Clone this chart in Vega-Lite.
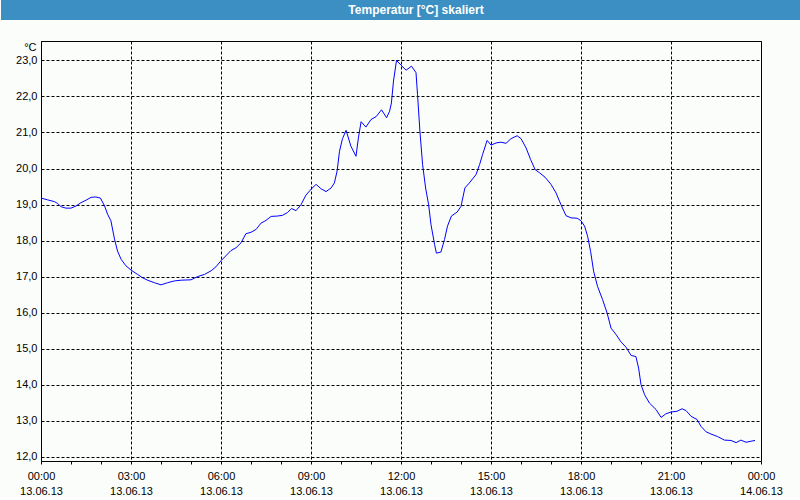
{
  "$schema": "https://vega.github.io/schema/vega-lite/v6.json",
  "padding": 0,
  "background": "#fbfdfb",
  "config": {"font": "Liberation Sans"},
  "columns": 1,
  "align": "none",
  "spacing": 20,
  "concat": [
    {
      "width": 760,
      "height": 20,
      "view": {"stroke": null},
      "data": {"values": [{"title": "Temperatur [°C] skaliert", "start": 0, "end": 1, "mid": 0.5}]},
      "layer": [
        {
          "mark": {"type": "rect", "color": "#3b8fc3"},
          "encoding": {
            "x": {"field": "start", "type": "quantitative", "scale": {"domain": [0, 1], "range": [-40, 760]}, "axis": null},
            "x2": {"field": "end"},
            "y": {"value": 0},
            "y2": {"value": "height"}
          }
        },
        {
          "mark": {"type": "text", "color": "white", "fontWeight": "bold", "fontSize": 12, "dx": 15, "baseline": "middle"},
          "encoding": {
            "x": {"field": "mid", "type": "quantitative"},
            "text": {"field": "title"}
          }
        }
      ]
    },
    {
      "width": 720,
      "height": 420,
      "view": {"stroke": "black", "strokeWidth": 1},
      "data": {"values": [
        {"h": 0.0, "v": 19.18}, {"h": 0.22, "v": 19.13}, {"h": 0.45, "v": 19.08}, {"h": 0.55, "v": 19.03},
        {"h": 0.67, "v": 18.94}, {"h": 0.83, "v": 18.9}, {"h": 1.0, "v": 18.9}, {"h": 1.17, "v": 18.96},
        {"h": 1.33, "v": 19.05}, {"h": 1.5, "v": 19.12}, {"h": 1.67, "v": 19.2}, {"h": 1.83, "v": 19.21},
        {"h": 1.98, "v": 19.18}, {"h": 2.12, "v": 18.96}, {"h": 2.22, "v": 18.73}, {"h": 2.33, "v": 18.55},
        {"h": 2.45, "v": 18.04}, {"h": 2.55, "v": 17.71}, {"h": 2.67, "v": 17.48}, {"h": 2.83, "v": 17.3},
        {"h": 3.0, "v": 17.18}, {"h": 3.22, "v": 17.06}, {"h": 3.38, "v": 16.97}, {"h": 3.55, "v": 16.9},
        {"h": 3.78, "v": 16.83}, {"h": 4.0, "v": 16.77}, {"h": 4.22, "v": 16.83}, {"h": 4.45, "v": 16.88},
        {"h": 4.67, "v": 16.9}, {"h": 5.0, "v": 16.91}, {"h": 5.22, "v": 17.0}, {"h": 5.45, "v": 17.06},
        {"h": 5.67, "v": 17.16}, {"h": 5.83, "v": 17.27}, {"h": 6.0, "v": 17.44}, {"h": 6.33, "v": 17.72},
        {"h": 6.5, "v": 17.8}, {"h": 6.67, "v": 17.94}, {"h": 6.83, "v": 18.19}, {"h": 7.0, "v": 18.23},
        {"h": 7.17, "v": 18.31}, {"h": 7.33, "v": 18.48}, {"h": 7.5, "v": 18.56}, {"h": 7.67, "v": 18.67},
        {"h": 7.88, "v": 18.68}, {"h": 8.05, "v": 18.7}, {"h": 8.22, "v": 18.78}, {"h": 8.35, "v": 18.89},
        {"h": 8.5, "v": 18.83}, {"h": 8.67, "v": 19.0}, {"h": 8.83, "v": 19.26}, {"h": 9.02, "v": 19.44},
        {"h": 9.17, "v": 19.56}, {"h": 9.33, "v": 19.44}, {"h": 9.5, "v": 19.36}, {"h": 9.67, "v": 19.46},
        {"h": 9.78, "v": 19.6}, {"h": 9.87, "v": 19.93}, {"h": 9.95, "v": 20.48}, {"h": 10.05, "v": 20.83},
        {"h": 10.17, "v": 21.06}, {"h": 10.33, "v": 20.62}, {"h": 10.5, "v": 20.34}, {"h": 10.58, "v": 20.85},
        {"h": 10.67, "v": 21.3}, {"h": 10.83, "v": 21.15}, {"h": 11.0, "v": 21.36}, {"h": 11.17, "v": 21.44},
        {"h": 11.35, "v": 21.63}, {"h": 11.52, "v": 21.41}, {"h": 11.62, "v": 21.59}, {"h": 11.68, "v": 21.82},
        {"h": 11.75, "v": 22.43}, {"h": 11.85, "v": 23.0}, {"h": 12.0, "v": 22.87}, {"h": 12.17, "v": 22.73},
        {"h": 12.35, "v": 22.84}, {"h": 12.5, "v": 22.66}, {"h": 12.55, "v": 22.06}, {"h": 12.63, "v": 21.04},
        {"h": 12.72, "v": 20.11}, {"h": 12.82, "v": 19.46}, {"h": 12.92, "v": 19.0}, {"h": 13.0, "v": 18.44},
        {"h": 13.12, "v": 17.89}, {"h": 13.18, "v": 17.65}, {"h": 13.33, "v": 17.68}, {"h": 13.45, "v": 18.03},
        {"h": 13.55, "v": 18.4}, {"h": 13.68, "v": 18.68}, {"h": 13.87, "v": 18.79}, {"h": 14.0, "v": 18.95},
        {"h": 14.13, "v": 19.46}, {"h": 14.28, "v": 19.6}, {"h": 14.5, "v": 19.83}, {"h": 14.62, "v": 20.11},
        {"h": 14.72, "v": 20.39}, {"h": 14.87, "v": 20.78}, {"h": 15.0, "v": 20.65}, {"h": 15.17, "v": 20.71},
        {"h": 15.33, "v": 20.73}, {"h": 15.5, "v": 20.7}, {"h": 15.67, "v": 20.83}, {"h": 15.87, "v": 20.91},
        {"h": 16.0, "v": 20.83}, {"h": 16.17, "v": 20.57}, {"h": 16.32, "v": 20.25}, {"h": 16.47, "v": 19.97},
        {"h": 16.62, "v": 19.88}, {"h": 16.8, "v": 19.76}, {"h": 17.0, "v": 19.56}, {"h": 17.17, "v": 19.32},
        {"h": 17.33, "v": 19.0}, {"h": 17.5, "v": 18.69}, {"h": 17.67, "v": 18.63}, {"h": 17.87, "v": 18.62},
        {"h": 18.0, "v": 18.55}, {"h": 18.12, "v": 18.4}, {"h": 18.22, "v": 18.12}, {"h": 18.32, "v": 17.7},
        {"h": 18.42, "v": 17.15}, {"h": 18.55, "v": 16.73}, {"h": 18.72, "v": 16.36}, {"h": 18.87, "v": 15.99},
        {"h": 19.0, "v": 15.57}, {"h": 19.17, "v": 15.39}, {"h": 19.33, "v": 15.19}, {"h": 19.5, "v": 15.04},
        {"h": 19.67, "v": 14.81}, {"h": 19.83, "v": 14.78}, {"h": 19.92, "v": 14.46}, {"h": 20.0, "v": 14.0},
        {"h": 20.12, "v": 13.72}, {"h": 20.28, "v": 13.49}, {"h": 20.5, "v": 13.31}, {"h": 20.67, "v": 13.09},
        {"h": 20.83, "v": 13.19}, {"h": 21.0, "v": 13.24}, {"h": 21.2, "v": 13.26}, {"h": 21.37, "v": 13.33},
        {"h": 21.5, "v": 13.28}, {"h": 21.67, "v": 13.12}, {"h": 21.87, "v": 13.03}, {"h": 22.0, "v": 12.84},
        {"h": 22.17, "v": 12.69}, {"h": 22.33, "v": 12.63}, {"h": 22.55, "v": 12.56}, {"h": 22.78, "v": 12.46},
        {"h": 23.0, "v": 12.45}, {"h": 23.17, "v": 12.39}, {"h": 23.33, "v": 12.46}, {"h": 23.5, "v": 12.4},
        {"h": 23.67, "v": 12.43}, {"h": 23.8, "v": 12.45}
      ]},
      "mark": {"type": "line", "color": "#0000ff", "strokeWidth": 1},
      "encoding": {
        "x": {
          "field": "h",
          "type": "quantitative",
          "scale": {"domain": [0, 24], "nice": false, "zero": false},
          "axis": {
            "title": null,
            "values": [0, 1, 2, 3, 4, 5, 6, 7, 8, 9, 10, 11, 12, 13, 14, 15, 16, 17, 18, 19, 20, 21, 22, 23, 24],
            "labelExpr": "datum.value % 3 === 0 ? [(datum.value % 24 < 10 ? '0' : '') + (datum.value % 24) + ':00', datum.value < 24 ? '13.06.13' : '14.06.13'] : ''",
            "labelOverlap": false,
            "labelFlush": false,
            "labelFontSize": 11,
            "labelColor": "black",
            "labelLineHeight": 15,
            "labelPadding": 6,
            "tickSize": 3,
            "tickColor": "black",
            "domain": false,
            "grid": true,
            "gridColor": "black",
            "gridDash": [3, 2],
            "gridOpacity": {"condition": {"test": "datum.value % 3 === 0", "value": 1}, "value": 0}
          }
        },
        "y": {
          "field": "v",
          "type": "quantitative",
          "scale": {"domain": [11.88, 23.54], "nice": false, "zero": false},
          "axis": {
            "values": [12, 13, 14, 15, 16, 17, 18, 19, 20, 21, 22, 23],
            "labelExpr": "replace(format(datum.value, '.1f'), '.', ',')",
            "labelFontSize": 11,
            "labelColor": "black",
            "labelPadding": 4,
            "ticks": false,
            "tickSize": 0,
            "domain": false,
            "grid": true,
            "gridColor": "black",
            "gridDash": [3, 2],
            "title": "°C",
            "titleAngle": 0,
            "titleX": -5,
            "titleY": 6,
            "titleAlign": "right",
            "titleBaseline": "middle",
            "titleFontWeight": "normal",
            "titleFontSize": 11,
            "minExtent": 40,
            "maxExtent": 40
          }
        }
      }
    }
  ]
}
